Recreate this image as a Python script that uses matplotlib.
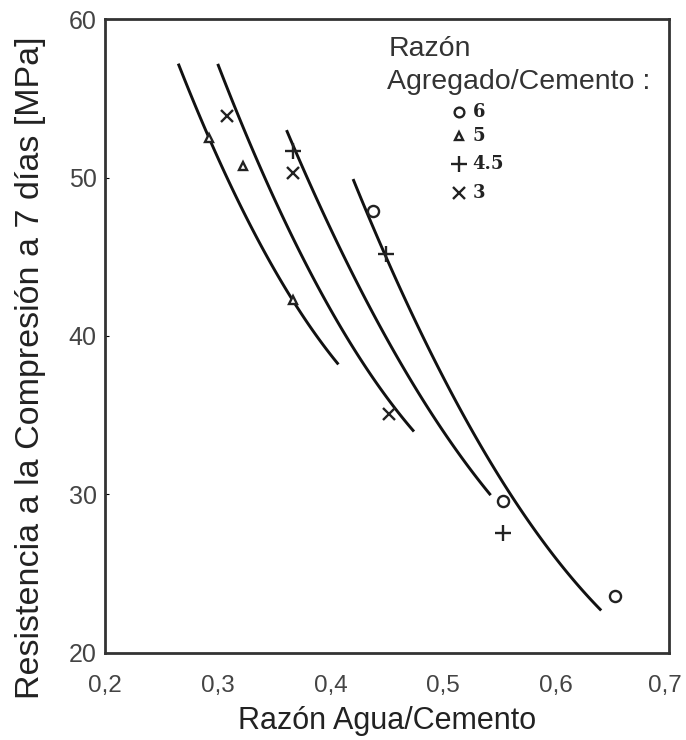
import matplotlib
matplotlib.use("Agg")
from matplotlib import pyplot as plt
from matplotlib.transforms import ScaledTranslation
import numpy as np

plt.rcParams['font.family'] = ['Liberation Sans', 'DejaVu Sans']

# puntos medidos (razon agua/cemento, resistencia MPa)
ac_6 = [0.438, 0.553, 0.652]
fc_6 = [47.9, 29.6, 23.6]
ac_5 = [0.292, 0.322, 0.367]
fc_5 = [52.5, 50.7, 42.3]
ac_45 = [0.367, 0.449, 0.553]
fc_45 = [51.7, 45.2, 27.6]
ac_3 = [0.308, 0.367, 0.452]
fc_3 = [53.9, 50.3, 35.1]

# curvas dibujadas a mano en el grafico original
curva_a_x = [0.265, 0.311, 0.364, 0.407]
curva_a_y = [57.1, 49.8, 42.3, 38.3]
curva_b_x = [0.300, 0.344, 0.394, 0.474]
curva_b_y = [57.1, 49.8, 42.3, 34.0]
curva_c_x = [0.361, 0.380, 0.409, 0.422, 0.517, 0.542]
curva_c_y = [53.0, 49.8, 45.6, 43.5, 32.2, 30.0]
curva_d_x = [0.420, 0.449, 0.458, 0.542, 0.604, 0.640]
curva_d_y = [49.8, 45.2, 43.5, 32.2, 25.2, 22.9]

etiquetas = ['6', '5', '4.5', '3']


def curva(ax, xs, ys):
    c = np.polyfit(xs, ys, 2)
    xx = np.linspace(xs[0], xs[-1], 100)
    ax.plot(xx, np.polyval(c, xx), color='#111111', lw=2.1, solid_capstyle='butt')


fig = plt.figure(figsize=(6.86, 7.4), dpi=100)
ax = fig.add_axes([0.153, 0.1176, 0.822, 0.8567])

for xs, ys in [(curva_a_x, curva_a_y), (curva_b_x, curva_b_y),
               (curva_c_x, curva_c_y), (curva_d_x, curva_d_y)]:
    curva(ax, xs, ys)

kw = dict(color='#222222', linestyle='none')
ax.plot(ac_6, fc_6, marker='o', ms=8, mfc='white', mew=1.7, **kw)
ax.plot(ac_5, fc_5, marker='^', ms=6, mfc='white', mew=1.7, **kw)
ax.plot(ac_45, fc_45, marker='+', ms=12, mew=1.7, **kw)
ax.plot(ac_3, fc_3, marker='x', ms=9, mew=1.7, **kw)

ax.set_xlim(0.2, 0.7)
ax.set_ylim(20, 60)
ax.set_xticks([0.2, 0.3, 0.4, 0.5, 0.6, 0.7])
ax.set_xticklabels(['0,2', '0,3', '0,4', '0,5', '0,6', '0,7'])
ax.set_yticks([20, 30, 40, 50, 60])
ax.tick_params(axis='y', direction='in', length=3, labelsize=18, labelcolor='#444444', pad=6)
ax.tick_params(axis='x', length=0, labelsize=17.5, labelcolor='#444444', pad=16)
for s in ax.spines.values():
    s.set_linewidth(2)
    s.set_color('#333333')

fig.canvas.draw()
ult = ax.get_xticklabels()[-1]
ult.set_transform(ult.get_transform() + ScaledTranslation(-4 / 100, 0, fig.dpi_scale_trans))

ax.set_xlabel('Razón Agua/Cemento', fontsize=22, color='#222222', labelpad=6)
ax.set_ylabel('Resistencia a la Compresión a 7 días [MPa]', fontsize=24.5, color='#222222')
ax.yaxis.set_label_coords(-0.104, 0.45)

# leyenda escrita a mano
ax.text(0.503, 0.953, 'Razón', transform=ax.transAxes, fontsize=20.5, color='#333333', va='center')
ax.text(0.500, 0.901, 'Agregado/Cemento :', transform=ax.transAxes, fontsize=20.5, color='#333333', va='center')
mk = [('o', 7, 'white'), ('^', 5.5, 'white'), ('+', 11, None), ('x', 8, None)]
ley_y = [0.853, 0.815, 0.772, 0.726]
for (m, s, fc), yy, t in zip(mk, ley_y, etiquetas):
    if fc:
        ax.plot(0.628, yy, marker=m, ms=s, mfc=fc, mew=1.7, transform=ax.transAxes, **kw)
    else:
        ax.plot(0.628, yy, marker=m, ms=s, mew=1.7, transform=ax.transAxes, **kw)
    ax.text(0.652, yy, t, transform=ax.transAxes, fontsize=13, fontweight='bold',
            family='DejaVu Serif', color='#222222', va='center')

fig.savefig('out.png', dpi=100)
